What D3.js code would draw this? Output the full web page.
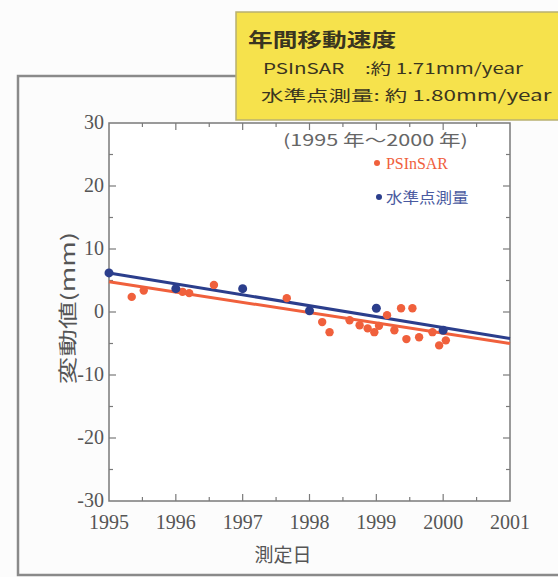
<!DOCTYPE html>
<html><head><meta charset="utf-8">
<script src="https://cdn.jsdelivr.net/npm/d3@7"></script>
<style>body{margin:0;background:#fcfcfc}svg{display:block}</style>
</head><body>
<svg id="c" width="558" height="577"></svg>
<script>
const xTicks = [1995,1996,1997,1998,1999,2000,2001];
const yTicks = [-30,-20,-10,0,10,20,30];
const psinsarT = [1995.34,1995.52,1996.1,1996.2,1996.57,1997.66,1998.19,1998.3,1998.6,1998.75,1998.87,1998.97,1999.04,1999.16,1999.27,1999.37,1999.54,1999.45,1999.64,1999.84,1999.94,2000.04];
const psinsarV = [2.4,3.4,3.2,3.0,4.3,2.2,-1.6,-3.2,-1.3,-2.1,-2.6,-3.2,-2.2,-0.5,-2.9,0.6,0.6,-4.3,-4.0,-3.2,-5.3,-4.5];
const levelT = [1995,1996,1997,1998,1999,2000];
const levelV = [6.2,3.7,3.7,0.2,0.6,-2.9];
const trendT = [1995,2001];
const psinsarTrend = [4.8,-5.0];
const levelTrend = [6.2,-4.2];

const svg = d3.select("#c");
const x = d3.scaleLinear().domain([1995,2001]).range([109,510]);
const y = d3.scaleLinear().domain([-30,30]).range([501,123]);
const axisCol = "#7a7a7a";

svg.append("rect").attr("x",18).attr("y",76).attr("width",600).attr("height",499)
  .attr("fill","none").attr("stroke","#8a8a8a").attr("stroke-width",2.5);

svg.append("rect").attr("x",x(1995)).attr("y",y(30)).attr("width",x(2001)-x(1995)).attr("height",y(-30)-y(30))
  .attr("fill","#fff").attr("stroke",axisCol).attr("stroke-width",1.5);

const minorX = d3.range(1995.5,2001,1);
const minorY = d3.range(-25,30,10);
const g = svg.append("g").attr("stroke",axisCol).attr("stroke-width",1.2);
xTicks.slice(1,-1).forEach(t=>{
  g.append("line").attr("x1",x(t)).attr("x2",x(t)).attr("y1",y(-30)).attr("y2",y(-30)-7);
  g.append("line").attr("x1",x(t)).attr("x2",x(t)).attr("y1",y(30)).attr("y2",y(30)+7);
});
minorX.forEach(t=>{
  g.append("line").attr("x1",x(t)).attr("x2",x(t)).attr("y1",y(-30)).attr("y2",y(-30)-4);
  g.append("line").attr("x1",x(t)).attr("x2",x(t)).attr("y1",y(30)).attr("y2",y(30)+4);
});
yTicks.slice(1,-1).forEach(v=>{
  g.append("line").attr("x1",x(1995)).attr("x2",x(1995)+7).attr("y1",y(v)).attr("y2",y(v));
  g.append("line").attr("x1",x(2001)).attr("x2",x(2001)-7).attr("y1",y(v)).attr("y2",y(v));
});
minorY.forEach(v=>{
  g.append("line").attr("x1",x(1995)).attr("x2",x(1995)+4).attr("y1",y(v)).attr("y2",y(v));
  g.append("line").attr("x1",x(2001)).attr("x2",x(2001)-4).attr("y1",y(v)).attr("y2",y(v));
});

const serif = "'Liberation Serif','DejaVu Serif',serif";
svg.append("g").selectAll("text").data(xTicks).join("text")
  .attr("x",d=>x(d)).attr("y",529).attr("text-anchor","middle")
  .attr("font-family",serif).attr("font-size",20).attr("fill","#555").text(d=>d);
svg.append("g").selectAll("text").data(yTicks).join("text")
  .attr("x",104).attr("y",d=>y(d)+6).attr("text-anchor","end")
  .attr("font-family",serif).attr("font-size",20).attr("fill","#555").text(d=>d);

const jp = "'Noto Sans CJK JP',sans-serif";
svg.append("text").attr("transform","translate(75,308) rotate(-90) scale(1.45,1)").attr("text-anchor","middle")
  .attr("font-family",jp).attr("font-size",19).attr("fill","#555").text("変動値(mm)");
svg.append("text").attr("x",283).attr("y",562).attr("text-anchor","middle")
  .attr("font-family",jp).attr("font-size",19).attr("fill","#555").text("測定日");

const red = "#f0603c", blue = "#2b3e8c";
const line = d3.line().x(d=>x(d[0])).y(d=>y(d[1]));
svg.append("path").attr("d",line(trendT.map((t,i)=>[t,psinsarTrend[i]]))).attr("stroke",red).attr("stroke-width",3).attr("fill","none");
svg.append("path").attr("d",line(trendT.map((t,i)=>[t,levelTrend[i]]))).attr("stroke",blue).attr("stroke-width",3).attr("fill","none");

svg.append("g").selectAll("circle").data(psinsarT.map((t,i)=>[t,psinsarV[i]])).join("circle")
  .attr("cx",d=>x(d[0])).attr("cy",d=>y(d[1])).attr("r",4.2).attr("fill",red);
svg.append("g").selectAll("circle").data(levelT.map((t,i)=>[t,levelV[i]])).join("circle")
  .attr("cx",d=>x(d[0])).attr("cy",d=>y(d[1])).attr("r",4.5).attr("fill",blue);

// legend
svg.append("text").attr("transform","translate(283,146) scale(1.35,1)").attr("font-family",jp)
  .attr("font-size",16).attr("fill","#666").text("(1995 年～2000 年)");
svg.append("circle").attr("cx",377).attr("cy",163).attr("r",3).attr("fill",red);
svg.append("text").attr("x",386).attr("y",169).attr("font-family",serif).attr("font-size",16).attr("fill",red)
  .attr("textLength",62).attr("lengthAdjust","spacingAndGlyphs").text("PSInSAR");
svg.append("circle").attr("cx",379).attr("cy",197).attr("r",3).attr("fill",blue);
svg.append("text").attr("transform","translate(386,203) scale(1.1,1)").attr("font-family",jp).attr("font-size",15).attr("fill","#4a5aa0")
  .text("水準点測量");

// yellow box
svg.append("rect").attr("x",236).attr("y",12).attr("width",340).attr("height",108)
  .attr("fill","#f6e24c").attr("stroke","#b8b070").attr("stroke-width",1.5);
svg.append("text").attr("transform","translate(248,47) scale(1.3,1)").attr("font-family",jp).attr("font-weight","bold")
  .attr("font-size",19).attr("fill","#3a3520").text("年間移動速度");
svg.append("text").attr("transform","translate(263,74) scale(1.37,1)").attr("font-family",jp)
  .attr("font-size",15).attr("fill","#3a3520").text("PSInSAR　:約 1.71mm/year");
svg.append("text").attr("transform","translate(261,101) scale(1.5,1)").attr("font-family",jp)
  .attr("font-size",15).attr("fill","#3a3520").text("水準点測量: 約 1.80mm/year");
</script>
</body></html>
